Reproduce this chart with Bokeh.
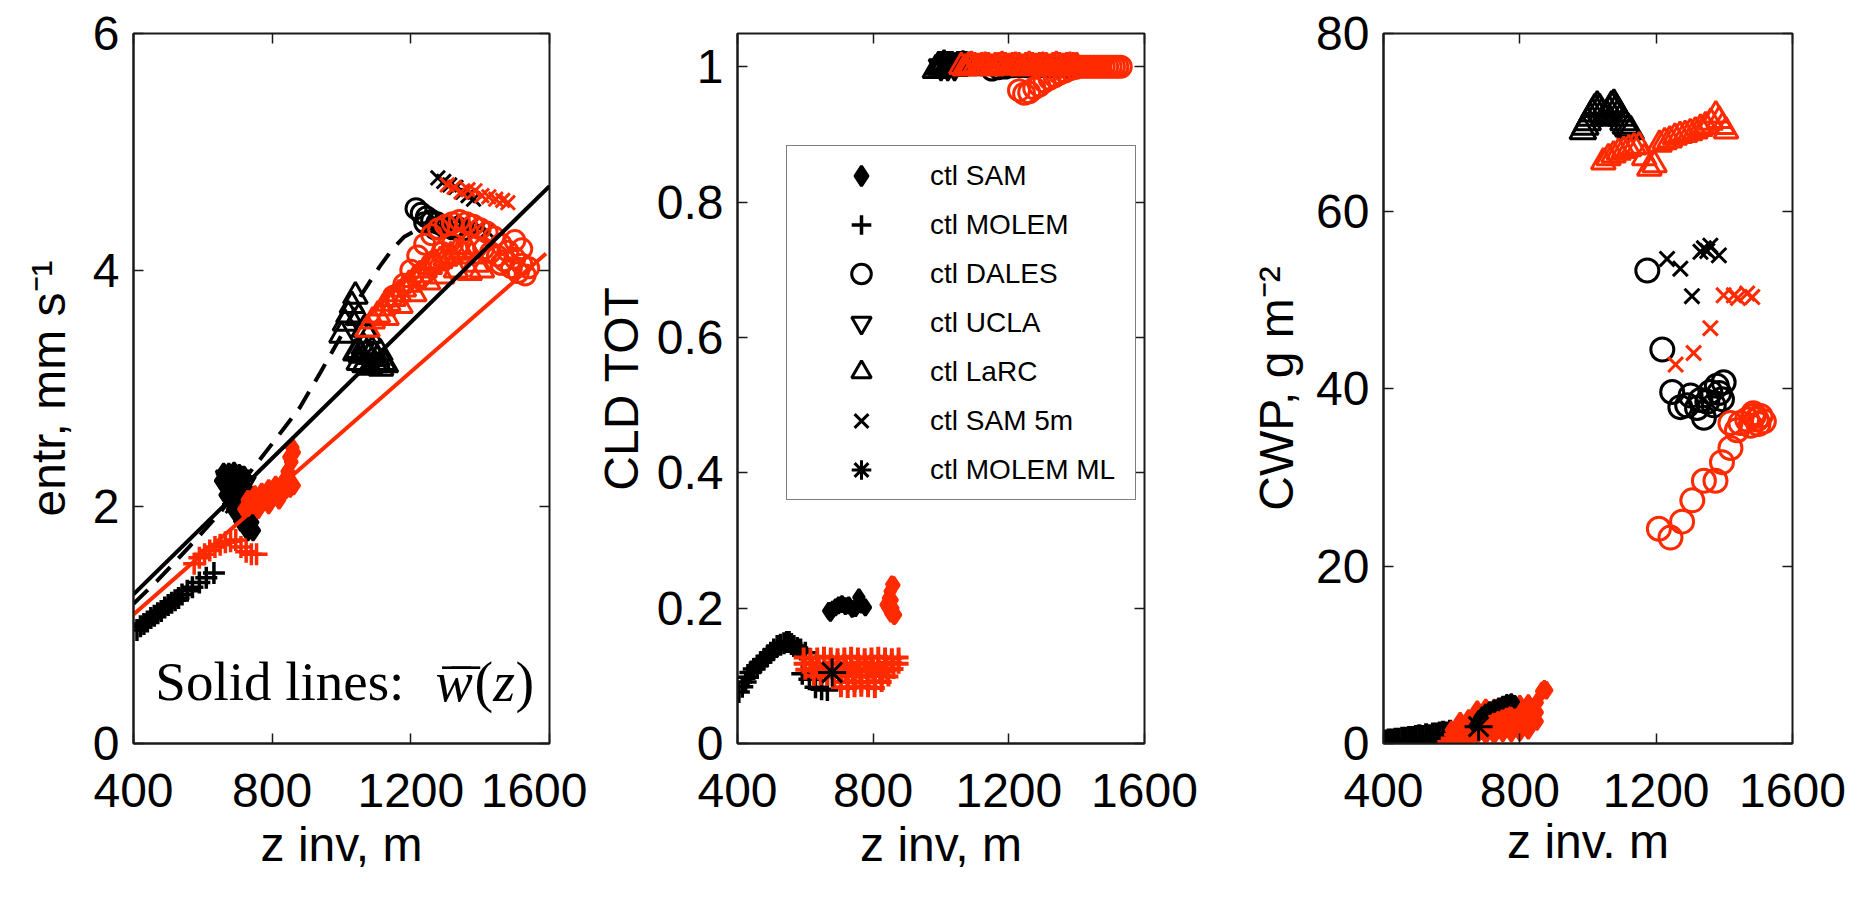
from bokeh.plotting import figure
from bokeh.models import (Range1d, FixedTicker, LinearAxis, Legend, LegendItem, Label,
                          NumeralTickFormatter)
from bokeh.layouts import row
from bokeh.embed import file_html
from bokeh.resources import INLINE

# ---------------- data ----------------
x_ticks = [400, 800, 1200, 1600]
p1_y_ticks = [0, 2, 4, 6]
p2_y_ticks = [0, 0.2, 0.4, 0.6, 0.8, 1]
p3_y_ticks = [0, 20, 40, 60, 80]

legend_labels = ["ctl SAM", "ctl MOLEM", "ctl DALES", "ctl UCLA", "ctl LaRC", "ctl SAM 5m", "ctl MOLEM ML"]

# Panel 1: entr, mm s-1
p1_sam_ctl_x = [660, 675, 690, 705, 720, 665, 680, 695, 710, 725, 675, 690, 705, 720, 735, 690, 705, 720, 735, 710, 725, 740, 730, 745, 655, 668]
p1_sam_ctl_y = [2.28, 2.28, 2.29, 2.27, 2.25, 2.18, 2.18, 2.17, 2.16, 2.15, 2.08, 2.08, 2.07, 2.06, 2.05, 1.98, 1.97, 1.97, 1.96, 1.88, 1.87, 1.87, 1.80, 1.80, 2.22, 2.10]
p1_molem_ctl_x = [410, 420, 430, 440, 450, 460, 470, 480, 490, 500, 510, 520, 530, 540, 555, 570, 590, 610, 632]
p1_molem_ctl_y = [0.96, 0.99, 1.01, 1.03, 1.06, 1.08, 1.10, 1.12, 1.15, 1.17, 1.19, 1.21, 1.23, 1.26, 1.29, 1.32, 1.36, 1.40, 1.44]
p1_dales_ctl_x = [1215, 1230, 1245, 1260, 1275, 1290, 1305, 1320, 1335, 1350, 1240, 1270]
p1_dales_ctl_y = [4.52, 4.48, 4.45, 4.42, 4.40, 4.38, 4.37, 4.35, 4.36, 4.34, 4.40, 4.35]
p1_ucla_ctl_x = [670, 690, 705, 720, 685, 700]
p1_ucla_ctl_y = [2.25, 2.28, 2.25, 2.20, 2.15, 2.10]
p1_larc_ctl_x = [1040, 1048, 1056, 1064, 1072, 1080, 1088, 1096, 1104, 1112, 1120, 1128,
                 1050, 1066, 1082, 1098, 1114, 1000, 1010, 1020, 1030, 1040, 1050, 1065, 1080]
p1_larc_ctl_y = [3.30, 3.32, 3.28, 3.35, 3.30, 3.27, 3.32, 3.28, 3.25, 3.30, 3.22, 3.20,
                 3.22, 3.20, 3.18, 3.20, 3.17, 3.45, 3.55, 3.62, 3.70, 3.78, 3.60, 3.50, 3.45]
p1_sam5_ctl_x = [1278, 1295, 1312, 1330, 1350, 1365, 1381, 1350, 1375, 1400, 1420]
p1_sam5_ctl_y = [4.78, 4.75, 4.72, 4.70, 4.66, 4.63, 4.60, 4.40, 4.38, 4.36, 4.33]
p1_molemml_ctl_x = [690]
p1_molemml_ctl_y = [2.02]

p1_sam_red_x = [720, 732, 744, 756, 768, 780, 792, 804, 816, 828, 840, 852, 862, 730, 750, 770, 790, 810, 830, 850, 760, 790, 820, 845, 855, 862, 850, 858]
p1_sam_red_y = [1.98, 2.00, 2.02, 2.04, 2.05, 2.07, 2.09, 2.10, 2.12, 2.13, 2.15, 2.16, 2.18, 2.06, 2.10, 2.12, 2.15, 2.18, 2.20, 2.22, 1.98, 2.02, 2.06, 2.30, 2.38, 2.46, 2.42, 2.50]
p1_molem_red_x = [575, 590, 605, 620, 635, 650, 665, 680, 695, 710, 725, 740, 755]
p1_molem_red_y = [1.52, 1.57, 1.60, 1.63, 1.66, 1.68, 1.70, 1.71, 1.72, 1.66, 1.62, 1.60, 1.60]
p1_larc_red_x = [1075, 1090, 1105, 1120, 1135, 1150, 1165, 1180, 1195, 1210, 1225, 1240, 1255, 1270, 1285, 1300, 1315, 1330, 1345, 1360, 1375, 1390, 1405, 1130, 1170, 1210, 1250, 1290, 1330, 1370]
p1_larc_red_y = [3.50, 3.57, 3.62, 3.68, 3.72, 3.76, 3.80, 3.84, 3.88, 3.92, 3.96, 4.00, 4.03, 4.06, 4.08, 4.10, 4.12, 4.15, 4.17, 4.20, 4.12, 4.05, 4.00, 3.60, 3.70, 3.80, 3.90, 3.95, 4.00, 3.98]
p1_dales_red_x = [1150, 1180, 1200, 1220, 1240, 1260, 1280, 1300, 1320, 1340, 1360, 1380, 1400, 1420, 1440, 1460, 1480, 1500, 1520, 1540, 1500, 1520, 1460, 1260, 1230, 1290, 1320,
                  1390, 1410, 1430, 1450, 1470, 1490, 1510, 1530]
p1_dales_red_y = [3.78, 3.88, 4.00, 4.12, 4.22, 4.30, 4.35, 4.38, 4.40, 4.42, 4.40, 4.38, 4.35, 4.32, 4.28, 4.22, 4.16, 4.10, 4.05, 4.02, 4.25, 4.18, 4.05, 4.05, 3.95, 4.15, 4.22,
                  4.20, 4.18, 4.15, 4.12, 4.08, 4.02, 3.98, 3.96]
p1_sam5_red_x = [1305, 1325, 1345, 1365, 1385, 1405, 1425, 1445, 1465, 1480]
p1_sam5_red_y = [4.72, 4.70, 4.66, 4.68, 4.67, 4.63, 4.62, 4.60, 4.59, 4.57]

p1_wbar_ctl_x = [400, 1600]
p1_wbar_ctl_y = [1.26, 4.71]
p1_wbar_red_x = [400, 1590]
p1_wbar_red_y = [1.09, 4.14]
p1_dash_x = [400, 470, 560, 650, 730, 815, 880, 940, 1000, 1055, 1110, 1145, 1180, 1210]
p1_dash_y = [1.18, 1.38, 1.66, 1.95, 2.27, 2.59, 2.84, 3.14, 3.45, 3.78, 4.03, 4.17, 4.28, 4.33]

# Panel 2: CLD TOT
p2_molem_ctl_x = [404, 414, 424, 431, 438, 448, 458, 468, 478, 488, 498, 507, 517, 527, 537, 545, 552, 559, 566, 576, 586, 600, 591, 612, 630, 648, 665]
p2_molem_ctl_y = [0.076, 0.084, 0.091, 0.098, 0.105, 0.110, 0.115, 0.120, 0.124, 0.129, 0.134, 0.139, 0.144, 0.146, 0.148, 0.150, 0.150, 0.147, 0.144, 0.141, 0.139, 0.134, 0.103, 0.095, 0.083, 0.080, 0.079]
p2_molemml_ctl_x = [679]
p2_molemml_ctl_y = [0.105]
p2_sam_ctl_x = [669, 674, 680, 689, 698, 708, 718, 728, 738, 748, 758, 765, 777]
p2_sam_ctl_y = [0.196, 0.193, 0.198, 0.201, 0.204, 0.206, 0.203, 0.204, 0.199, 0.200, 0.216, 0.205, 0.201]
p2_larc_ctl_x = [985, 993, 1001, 1009, 1017, 1025, 1033, 1041, 1049, 1057, 1065, 1073, 1081]
p2_larc_ctl_y = [0.995, 1.0, 1.0, 1.002, 1.0, 1.0, 1.0, 0.998, 1.0, 1.0, 1.001, 1.0, 0.999]
p2_ucla_ctl_x = [1000, 1020, 1040]
p2_ucla_ctl_y = [1.0, 1.0, 1.0]
p2_dales_ctl_x = [1150, 1170, 1190, 1210, 1230, 1250, 1270, 1290, 1310, 1330, 1350, 1370]
p2_dales_ctl_y = [0.995, 0.997, 0.998, 1.0, 1.0, 1.0, 1.0, 1.0, 1.0, 1.0, 1.0, 1.0]
p2_sam5_ctl_x = [1200, 1220, 1240, 1260, 1280, 1300, 1320, 1340, 1360, 1380]
p2_sam5_ctl_y = [1.0, 1.0, 1.0, 1.0, 1.0, 1.0, 1.0, 1.0, 1.0, 1.0]

p2_sam_red_x = [838, 845, 850, 855, 861, 858, 852, 862, 866, 849, 856, 844]
p2_sam_red_y = [0.205, 0.215, 0.225, 0.235, 0.234, 0.200, 0.192, 0.188, 0.190, 0.196, 0.212, 0.200]
p2_molem_red_x = [595, 615, 635, 655, 675, 695, 715, 735, 755, 775, 795, 815, 835, 855, 875,
                  595, 615, 635, 655, 675, 695, 715, 735, 755, 775, 795, 815, 835, 855, 875,
                  600, 620, 640, 660, 680, 700, 720, 740, 760, 780, 800, 820, 840, 860,
                  625, 645, 665, 685, 705, 725, 745, 765, 785, 805, 825, 845,
                  705, 725, 745, 765, 785, 805, 825,
                  705, 725, 745, 765, 785, 805]
p2_molem_red_y = [0.127, 0.126, 0.127, 0.128, 0.127, 0.126, 0.127, 0.128, 0.127, 0.126, 0.127, 0.128, 0.127, 0.126, 0.127,
                  0.118, 0.119, 0.118, 0.117, 0.118, 0.119, 0.118, 0.117, 0.118, 0.119, 0.118, 0.117, 0.118, 0.119, 0.118,
                  0.109, 0.110, 0.109, 0.108, 0.109, 0.110, 0.109, 0.108, 0.109, 0.110, 0.109, 0.108, 0.109, 0.110,
                  0.100, 0.101, 0.100, 0.099, 0.100, 0.101, 0.100, 0.099, 0.100, 0.101, 0.100, 0.099,
                  0.091, 0.092, 0.091, 0.090, 0.091, 0.092, 0.091,
                  0.083, 0.082, 0.083, 0.084, 0.083, 0.082]
p2_larc_red_x = [1060, 1070, 1080, 1090, 1100, 1110, 1120, 1130, 1140, 1150, 1160, 1170, 1180, 1190, 1200, 1210, 1220, 1230,
                 1240, 1250, 1260, 1270, 1280, 1290, 1300, 1310, 1320, 1330, 1340, 1350, 1360, 1370, 1380, 1390, 1400]
p2_larc_red_y = [1.0, 0.998, 1.0, 1.002, 1.0, 0.999, 1.0, 1.001, 1.0, 0.998, 1.0, 1.0, 1.002, 1.0, 0.999, 1.0, 1.001, 1.0,
                 0.998, 1.0, 1.002, 1.0, 0.999, 1.0, 1.001, 1.0, 0.998, 1.0, 1.002, 1.0, 0.999, 1.0, 1.001, 1.0, 1.0]
p2_dales_red_x = [1230, 1245, 1260, 1275, 1290, 1305, 1320, 1335, 1350, 1365, 1380, 1395, 1410, 1420, 1430, 1440, 1450,
                  1460, 1470, 1480, 1490, 1500, 1510, 1520, 1530]
p2_dales_red_y = [0.965, 0.960, 0.962, 0.968, 0.972, 0.978, 0.982, 0.986, 0.990, 0.993, 0.996, 0.998, 1.0, 1.0, 1.0, 1.0, 1.0,
                  1.0, 1.0, 1.0, 1.0, 1.0, 1.0, 1.0, 1.0]
p2_sam5_red_x = [1300, 1320, 1340, 1360, 1380, 1400, 1420, 1440, 1460, 1480]
p2_sam5_red_y = [1.0, 1.0, 1.0, 1.0, 1.0, 1.0, 1.0, 1.0, 1.0, 1.0]

# Panel 3: CWP, g m-2
p3_molem_ctl_x = [405, 415, 425, 435, 445, 455, 465, 475, 485, 495, 505, 515, 525, 535, 545, 555, 565, 575, 585, 595]
p3_molem_ctl_y = [0.0, 0.1, 0.1, 0.2, 0.2, 0.3, 0.3, 0.4, 0.4, 0.5, 0.6, 0.5, 0.7, 0.6, 0.8, 0.8, 0.9, 1.0, 0.9, 1.1]
p3_molemml_ctl_x = [679]
p3_molemml_ctl_y = [1.9]
p3_sam_ctl_x = [665, 672, 680, 690, 700, 712, 725, 738, 750, 762, 775, 785]
p3_sam_ctl_y = [2.0, 2.5, 3.0, 3.4, 3.7, 4.0, 4.2, 4.4, 4.6, 4.8, 4.9, 4.7]
p3_larc_ctl_x = [985, 992, 999, 1006, 1013, 1020, 1027, 1034, 1041, 1048, 1055, 1062, 1069, 1076, 1083, 1090, 1097, 1104, 1111, 1118, 1125]
p3_larc_ctl_y = [69.0, 69.5, 70.0, 70.5, 71.0, 71.5, 71.8, 71.5, 71.0, 70.5, 70.8, 71.3, 71.8, 72.0, 71.5, 71.0, 70.5, 70.0, 69.6, 69.3, 69.0]
p3_dales_ctl_x = [1174, 1218, 1247, 1271, 1291, 1301, 1320, 1330, 1340, 1350, 1359, 1369, 1378, 1385, 1393, 1398]
p3_dales_ctl_y = [53.3, 44.4, 39.6, 37.9, 38.1, 39.2, 37.8, 38.7, 36.7, 38.5, 39.6, 38.1, 40.3, 39.5, 38.8, 40.7]
p3_sam5_ctl_x = [1232, 1271, 1305, 1330, 1340, 1350, 1359, 1384]
p3_sam5_ctl_y = [54.6, 53.5, 50.4, 55.4, 55.8, 55.5, 56.1, 55.0]

p3_molem_red_x = [590, 600, 615, 630, 645, 660, 610, 640, 625, 655]
p3_molem_red_y = [0.2, 0.6, 0.3, 0.8, 0.4, 0.6, 1.0, 1.2, 1.6, 1.9]
p3_sam_red_x = [600, 600, 625, 625, 625, 650, 650, 650, 675, 675, 675, 675, 700, 700, 700, 700, 725, 725, 725, 725,
                750, 750, 750, 750, 775, 775, 775, 775, 800, 800, 800, 800, 825, 825, 825, 825, 850, 850, 850, 865, 872, 878]
p3_sam_red_y = [0.5, 1.5, 0.5, 1.5, 2.5, 0.8, 1.8, 2.8, 1.0, 2.0, 3.0, 3.8, 1.0, 2.0, 3.0, 4.0, 1.0, 2.0, 3.0, 4.0,
                1.2, 2.2, 3.2, 4.2, 1.2, 2.2, 3.2, 4.3, 1.3, 2.3, 3.3, 4.4, 1.5, 2.5, 3.5, 4.5, 2.5, 3.5, 4.6, 5.9, 6.1, 6.0]
p3_larc_red_x = [1045, 1060, 1075, 1090, 1105, 1120, 1135, 1150, 1165, 1180, 1195, 1210, 1225, 1240, 1255, 1270, 1285, 1300, 1315, 1330, 1345, 1360, 1375, 1385, 1395, 1405]
p3_larc_red_y = [65.5, 66.0, 66.3, 66.6, 66.8, 67.0, 67.2, 67.3, 66.0, 64.8, 65.2, 67.5, 67.8, 68.0, 68.3, 68.5, 68.6, 68.8, 69.0, 69.3, 69.6, 70.0, 70.8, 70.2, 69.5, 69.0]
p3_dales_red_x = [1208, 1242, 1276, 1306, 1340, 1374, 1393, 1418, 1437, 1418, 1447, 1467, 1477, 1486, 1506, 1516, 1495, 1500, 1485]
p3_dales_red_y = [24.2, 23.2, 25.0, 27.4, 29.6, 29.6, 31.7, 33.3, 35.3, 36.1, 36.1, 36.5, 35.8, 36.9, 36.9, 36.3, 36.5, 36.0, 37.2]
p3_sam5_red_x = [1257, 1310, 1359, 1398, 1428, 1440, 1467, 1482]
p3_sam5_red_y = [42.7, 44.0, 46.8, 50.5, 50.5, 50.2, 50.7, 50.3]

# ---------------- styling ----------------
BLACK = "#000000"
RED = "#ff2a00"
AX = "#1a1a1a"
FONT = "Liberation Sans"
SERIF = "Liberation Serif"
TICK_FS = "48px"
LAB_FS = "48px"
H = 909

MARKERS = {
    "SAM": ("diamond", True),
    "MOLEM": ("cross", False),
    "DALES": ("circle", False),
    "UCLA": ("inverted_triangle", False),
    "LaRC": ("triangle", False),
    "SAM5": ("x", False),
    "MOLEMML": ("asterisk", False),
}


def draw(p, xs, ys, model, color, size, lw=3):
    marker, filled = MARKERS[model]
    return p.scatter(xs, ys, marker=marker, size=size, line_color=color, line_width=lw,
                     fill_color=color if filled else None)


def empty_overrides(ticks):
    return {t: "" for t in ticks}


def make_panel(width, left, right, top, bottom, y_end, yticks, ylabel, xlabel,
               ylab_standoff, xlab_standoff):
    p = figure(width=width, height=H, x_range=Range1d(400, 1600), y_range=Range1d(0, y_end),
               output_backend="svg", toolbar_location=None,
               min_border_left=left, min_border_right=right,
               min_border_top=top, min_border_bottom=bottom)
    p.xgrid.visible = False
    p.ygrid.visible = False
    p.background_fill_color = "white"
    p.border_fill_color = "white"
    p.outline_line_color = AX
    p.outline_line_width = 2
    p.xaxis.ticker = FixedTicker(ticks=x_ticks)
    p.yaxis.ticker = FixedTicker(ticks=yticks)
    for ax in (p.xaxis[0], p.yaxis[0]):
        ax.major_tick_in = 10
        ax.major_tick_out = 0
        ax.minor_tick_in = 0
        ax.minor_tick_out = 0
        ax.major_tick_line_color = AX
        ax.major_tick_line_width = 1.5
        ax.axis_line_color = AX
        ax.axis_line_width = 2
        ax.major_label_text_font = FONT
        ax.major_label_text_font_size = TICK_FS
        ax.major_label_text_color = "black"
        ax.axis_label_text_font = FONT
        ax.axis_label_text_font_size = LAB_FS
        ax.axis_label_text_font_style = "normal"
        ax.axis_label_text_color = "black"
    p.xaxis.axis_label = xlabel
    p.xaxis.major_label_standoff = 30
    p.xaxis.axis_label_standoff = xlab_standoff
    p.yaxis.axis_label = ylabel
    p.yaxis.major_label_standoff = 14
    p.yaxis.axis_label_standoff = ylab_standoff
    top_ax = LinearAxis(ticker=FixedTicker(ticks=x_ticks), major_tick_in=10, major_tick_out=0,
                        minor_tick_in=0, minor_tick_out=0, axis_line_color=None,
                        major_tick_line_color=AX, major_tick_line_width=1.5,
                        major_label_overrides=empty_overrides(x_ticks),
                        major_label_text_font_size="0px", major_label_standoff=0)
    right_ax = LinearAxis(ticker=FixedTicker(ticks=yticks), major_tick_in=10, major_tick_out=0,
                          minor_tick_in=0, minor_tick_out=0, axis_line_color=None,
                          major_tick_line_color=AX, major_tick_line_width=1.5,
                          major_label_overrides=empty_overrides(yticks),
                          major_label_text_font_size="0px", major_label_standoff=0)
    p.add_layout(top_ax, "above")
    p.add_layout(right_ax, "right")
    return p


def note(p, x, text, style="normal", size="56px", y=0.52):
    p.add_layout(Label(x=x, y=y, text=text, text_font=SERIF, text_font_size=size,
                       text_font_style=style, text_color="black", text_baseline="alphabetic"))


# ---------------- panel 1 ----------------
p1 = make_panel(587, 133, 38, 32, 165, 6, p1_y_ticks, "entr, mm s\u207b\u00b9", "z inv, m", 15, 8)
draw(p1, p1_molem_ctl_x, p1_molem_ctl_y, "MOLEM", BLACK, 22, 3.5)
draw(p1, p1_sam_ctl_x, p1_sam_ctl_y, "SAM", BLACK, 20)
draw(p1, p1_ucla_ctl_x, p1_ucla_ctl_y, "UCLA", BLACK, 22)
draw(p1, p1_molemml_ctl_x, p1_molemml_ctl_y, "MOLEMML", BLACK, 24)
draw(p1, p1_larc_ctl_x, p1_larc_ctl_y, "LaRC", BLACK, 24)
draw(p1, p1_dales_ctl_x, p1_dales_ctl_y, "DALES", BLACK, 20)
draw(p1, p1_sam5_ctl_x, p1_sam5_ctl_y, "SAM5", BLACK, 20)
draw(p1, p1_molem_red_x, p1_molem_red_y, "MOLEM", RED, 22, 3.5)
draw(p1, p1_sam_red_x, p1_sam_red_y, "SAM", RED, 18)
draw(p1, p1_larc_red_x, p1_larc_red_y, "LaRC", RED, 24)
draw(p1, p1_dales_red_x, p1_dales_red_y, "DALES", RED, 20)
draw(p1, p1_sam5_red_x, p1_sam5_red_y, "SAM5", RED, 20)
p1.line(p1_dash_x, p1_dash_y, line_color=BLACK, line_width=4, line_dash="20 12")
p1.line(p1_wbar_red_x, p1_wbar_red_y, line_color=RED, line_width=4)
p1.line(p1_wbar_ctl_x, p1_wbar_ctl_y, line_color=BLACK, line_width=4)
note(p1, 463, "Solid lines:", size="55px")
note(p1, 1271, "w", "italic")
note(p1, 1291, "\u00af", y=0.44)
note(p1, 1318, "\u00af", y=0.44)
note(p1, 1384, "(")
note(p1, 1438, "z", "italic")
note(p1, 1502, ")")

# ---------------- panel 2 ----------------
p2 = make_panel(653, 150, 96, 15, 166, 1.049, p2_y_ticks, "CLD TOT", "z inv, m", 6, 8)
p2.yaxis[0].formatter = NumeralTickFormatter(format="0.[0]")
r_molem = draw(p2, p2_molem_ctl_x, p2_molem_ctl_y, "MOLEM", BLACK, 22, 3.5)
r_sam = draw(p2, p2_sam_ctl_x, p2_sam_ctl_y, "SAM", BLACK, 16)
r_larc = draw(p2, p2_larc_ctl_x, p2_larc_ctl_y, "LaRC", BLACK, 26)
r_ucla = draw(p2, p2_ucla_ctl_x, p2_ucla_ctl_y, "UCLA", BLACK, 24)
r_dales = draw(p2, p2_dales_ctl_x, p2_dales_ctl_y, "DALES", BLACK, 20)
r_sam5 = draw(p2, p2_sam5_ctl_x, p2_sam5_ctl_y, "SAM5", BLACK, 20)
draw(p2, p2_molem_red_x, p2_molem_red_y, "MOLEM", RED, 20, 4)
draw(p2, p2_sam_red_x, p2_sam_red_y, "SAM", RED, 16)
draw(p2, p2_larc_red_x, p2_larc_red_y, "LaRC", RED, 24)
draw(p2, p2_dales_red_x, p2_dales_red_y, "DALES", RED, 21)
draw(p2, p2_sam5_red_x, p2_sam5_red_y, "SAM5", RED, 20)
r_molemml = draw(p2, p2_molemml_ctl_x, p2_molemml_ctl_y, "MOLEMML", BLACK, 28)

legend = Legend(
    items=[LegendItem(label=lab, renderers=[r]) for lab, r in zip(
        legend_labels, [r_sam, r_molem, r_dales, r_ucla, r_larc, r_sam5, r_molemml])],
    location=(49, 243), orientation="vertical",
    label_text_font=FONT, label_text_font_size="28px", label_text_color="black",
    glyph_width=138, glyph_height=49, label_height=49, label_width=200,
    spacing=0, padding=5, label_standoff=0, margin=0,
    border_line_color="black", border_line_width=1.5,
    background_fill_color="white", background_fill_alpha=1.0,
)
p2.add_layout(legend)

# ---------------- panel 3 ----------------
p3 = make_panel(622, 143, 70, 33, 162, 80, p3_y_ticks, "CWP, g m\u207b\u00b2", "z inv. m", 10, 5)
draw(p3, p3_molem_ctl_x, p3_molem_ctl_y, "MOLEM", BLACK, 28, 4)
draw(p3, p3_larc_ctl_x, p3_larc_ctl_y, "LaRC", BLACK, 26)
draw(p3, p3_dales_ctl_x, p3_dales_ctl_y, "DALES", BLACK, 23)
draw(p3, p3_sam5_ctl_x, p3_sam5_ctl_y, "SAM5", BLACK, 21)
draw(p3, p3_molem_red_x, p3_molem_red_y, "MOLEM", RED, 22, 3.5)
draw(p3, p3_sam_red_x, p3_sam_red_y, "SAM", RED, 17)
draw(p3, p3_larc_red_x, p3_larc_red_y, "LaRC", RED, 24)
draw(p3, p3_dales_red_x, p3_dales_red_y, "DALES", RED, 23)
draw(p3, p3_sam5_red_x, p3_sam5_red_y, "SAM5", RED, 21)
draw(p3, p3_sam_ctl_x, p3_sam_ctl_y, "SAM", BLACK, 12)
draw(p3, p3_molemml_ctl_x, p3_molemml_ctl_y, "MOLEMML", BLACK, 28)

layout = row(p1, p2, p3, spacing=0)
open("out.html", "w").write(file_html(layout, INLINE))
